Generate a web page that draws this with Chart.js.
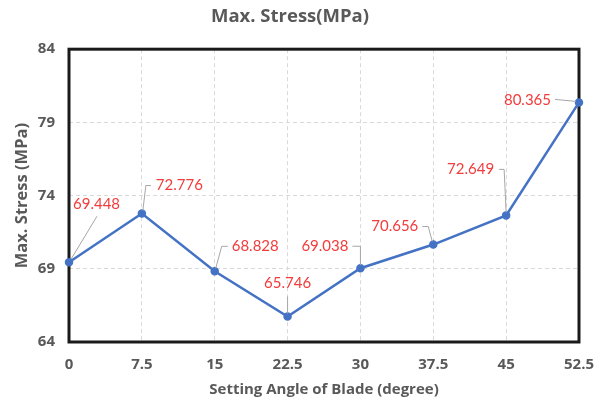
<!DOCTYPE html>
<html>
<head>
<meta charset="utf-8">
<script src="https://cdn.jsdelivr.net/npm/chart.js@4.4.1/dist/chart.umd.min.js"></script>
<style>
  html, body { margin: 0; padding: 0; background: #ffffff; }
  #wrap { width: 608px; height: 404px; }
</style>
</head>
<body>
<div id="wrap"><canvas id="c" width="608" height="404"></canvas></div>
<script>
const angles = [0, 7.5, 15, 22.5, 30, 37.5, 45, 52.5];
const maxStress = [69.448, 72.776, 68.828, 65.746, 69.038, 70.656, 72.649, 80.365];
const xTicks = [0, 7.5, 15, 22.5, 30, 37.5, 45, 52.5];
const yTicks = [64, 69, 74, 79, 84];

const FONT = '"Open Sans", "Noto Sans", "Liberation Sans", sans-serif';
const LFONT = 'Lato, "Open Sans", "Liberation Sans", sans-serif';

const leaderLabels = {
  id: 'leaderLabels',
  afterDatasetsDraw(chart, args, opts) {
    const ctx = chart.ctx;
    const meta = chart.getDatasetMeta(0);
    const ds = chart.data.datasets[0];
    ctx.save();
    meta.data.forEach((pt, i) => {
      const it = opts.items[i];
      if (!it) return;
      const px = pt.x, py = pt.y;
      ctx.beginPath();
      ctx.strokeStyle = opts.leaderColor;
      ctx.lineWidth = 1;
      it.leader.forEach((p, k) => {
        const x = px + p[0], y = py + p[1];
        if (k === 0) ctx.moveTo(x, y); else ctx.lineTo(x, y);
      });
      ctx.stroke();
      ctx.fillStyle = opts.color;
      ctx.font = opts.font;
      ctx.textAlign = it.align;
      ctx.textBaseline = 'middle';
      ctx.fillText(ds.data[i].y.toFixed(3), px + it.tx, py + it.ty);
    });
    ctx.restore();
  }
};

const frameBorder = {
  id: 'frameBorder',
  beforeDatasetsDraw(chart) {
    const {ctx, chartArea: a} = chart;
    ctx.save();
    ctx.strokeStyle = '#1a1a1a';
    ctx.lineWidth = 3;
    ctx.strokeRect(a.left, a.top, a.right - a.left, a.bottom - a.top);
    ctx.restore();
  }
};

new Chart(document.getElementById('c'), {
  type: 'line',
  data: {
    datasets: [{
      label: 'Max. Stress(MPa)',
      data: angles.map((a, i) => ({x: a, y: maxStress[i]})),
      borderColor: '#4472C4',
      backgroundColor: '#4472C4',
      borderWidth: 2.5,
      pointRadius: 3,
      pointHoverRadius: 3,
      tension: 0,
      clip: false
    }]
  },
  options: {
    responsive: false,
    animation: false,
    events: [],
    layout: { padding: { top: 0, right: 28, bottom: 0, left: 0 } },
    plugins: {
      legend: { display: false },
      tooltip: { enabled: false },
      title: {
        display: true,
        text: 'Max. Stress(MPa)',
        color: '#595959',
        font: { family: FONT, size: 18.5, weight: 'bold' },
        padding: { top: 6, bottom: 21 }
      },
      leaderLabels: {
        color: '#F23B3B',
        leaderColor: '#A6A6A6',
        font: '15px ' + LFONT,
        items: [
          { tx: 4, ty: -58, align: 'left', leader: [[28, -46], [2, -3]] },
          { tx: 14, ty: -28, align: 'left', leader: [[9, -28], [4, -28], [1, -3]] },
          { tx: 17, ty: -25, align: 'left', leader: [[13, -25], [7, -25], [1, -3]] },
          { tx: 0, ty: -33, align: 'center', leader: [[0, -20], [0, -3]] },
          { tx: -12, ty: -22, align: 'right', leader: [[-8, -22], [0, -22], [0, -3]] },
          { tx: -15, ty: -18, align: 'right', leader: [[-11, -18], [-5, -18], [-1, -3]] },
          { tx: -12, ty: -46, align: 'right', leader: [[-7, -46], [-2, -46], [0, -3]] },
          { tx: -28, ty: -2, align: 'right', leader: [[-24, -3], [-3, -1]] }
        ]
      }
    },
    scales: {
      x: {
        type: 'linear',
        min: 0,
        max: 52.5,
        afterBuildTicks(scale) { scale.ticks = xTicks.map(v => ({value: v})); },
        afterFit(scale) { scale.height = 62; },
        grid: {
          color: '#D9D9D9',
          lineWidth: 1,
          drawTicks: false,
          tickLength: 0
        },
        border: { display: false, dash: [4, 3] },
        ticks: {
          color: '#595959',
          font: { family: FONT, size: 15, weight: 'bold' },
          padding: 14,
          maxRotation: 0,
          autoSkip: false,
          callback: v => String(v)
        },
        title: {
          display: true,
          text: 'Setting Angle of Blade (degree)',
          color: '#595959',
          font: { family: FONT, size: 15, weight: 'bold' },
          padding: { top: 0, bottom: 5 }
        }
      },
      y: {
        type: 'linear',
        min: 64,
        max: 84,
        afterBuildTicks(scale) { scale.ticks = yTicks.map(v => ({value: v})); },
        afterFit(scale) { scale.width = 69; },
        grid: {
          color: '#D9D9D9',
          lineWidth: 1,
          drawTicks: false,
          tickLength: 0
        },
        border: { display: false, dash: [4, 3] },
        ticks: {
          color: '#595959',
          font: { family: FONT, size: 15, weight: 'bold' },
          padding: 14,
          autoSkip: false
        },
        title: {
          display: true,
          text: 'Max. Stress (MPa)',
          color: '#595959',
          font: { family: FONT, size: 16.5, weight: 'bold' },
          padding: { top: 12, bottom: 0 }
        }
      }
    }
  },
  plugins: [frameBorder, leaderLabels]
});
</script>
</body>
</html>
